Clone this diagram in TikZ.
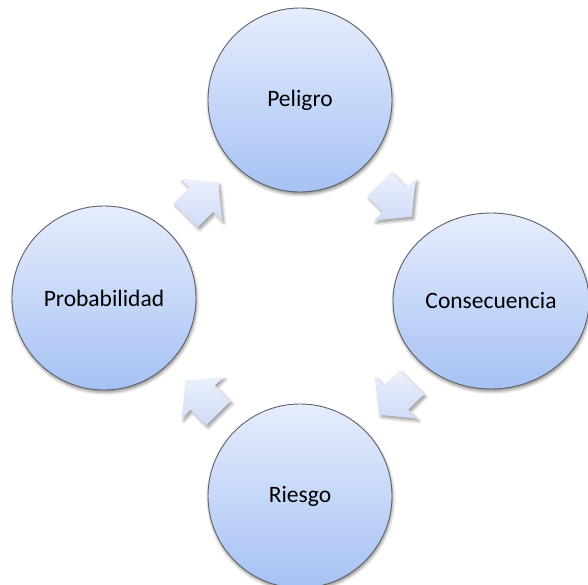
\documentclass[tikz,border=0pt]{standalone}
\usepackage{fontspec}
\setmainfont{Carlito}
\usetikzlibrary{calc,shapes.geometric,shadows.blur}
\definecolor{circtop}{HTML}{E6EDFC}
\definecolor{circbot}{HTML}{A6C1F4}
\definecolor{arrtop}{HTML}{EBF0FC}
\definecolor{arrbot}{HTML}{CFDBF7}
\definecolor{rim}{HTML}{5F6266}
\tikzset{
  stage/.style={circle, minimum size=184pt, inner sep=0pt, draw=rim, line width=0.9pt,
    top color=circtop, bottom color=circbot, font=\fontsize{23.5}{28}\selectfont,
    blur shadow={shadow xshift=0.8pt, shadow yshift=-2.5pt, shadow blur radius=3pt, shadow opacity=45}},
  widestage/.style={stage, ellipse, minimum width=196pt, minimum height=176pt},
  arrowfill/.style={top color=arrtop, bottom color=arrbot,
    blur shadow={shadow xshift=2pt, shadow yshift=-2.5pt, shadow blur radius=3pt, shadow opacity=40}},
  cyclearrow/.pic={\path[arrowfill]
      ($(#1:-23)+(#1+90:17)$) -- ($(#1:-1)+(#1+90:17)$) -- ($(#1:-1)+(#1+90:29.5)$)
      -- (#1:23) -- ($(#1:-1)+(#1-90:29.5)$) -- ($(#1:-1)+(#1-90:17)$)
      -- ($(#1:-23)+(#1-90:17)$) -- cycle;},
}
\begin{document}
\begin{tikzpicture}[x=1pt,y=-1pt]
\useasboundingbox (0,0) rectangle (588,585);
\node[stage] (pel) at (300,100) {Peligro};
\node[widestage] (con) at (491,301) {Consecuencia};
\node[stage] (rie) at (300,496) {Riesgo};
\node[stage] (pro) at (104,298) {Probabilidad};
\pic at ($(pel)!0.5!(con)$) {cyclearrow=45};
\pic at ($(con)!0.5!(rie)$) {cyclearrow=135};
\pic at ($(rie)!0.5!(pro)$) {cyclearrow=225};
\pic at ($(pro)!0.5!(pel)$) {cyclearrow=315};
\end{tikzpicture}
\end{document}
